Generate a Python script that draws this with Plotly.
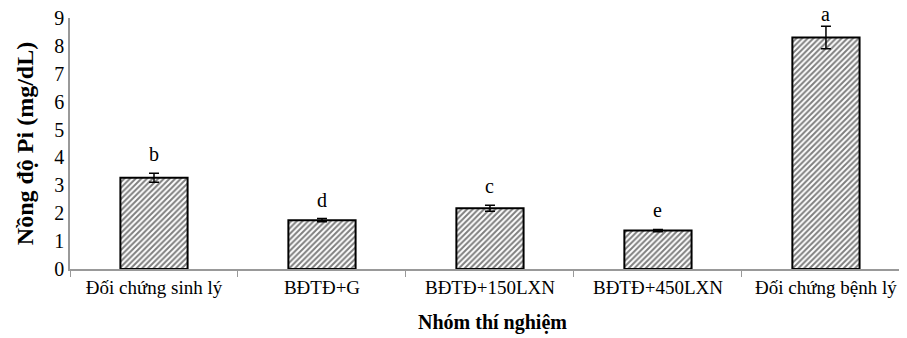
import plotly.graph_objects as go

categories = ["Đối chứng sinh lý", "BĐTĐ+G", "BĐTĐ+150LXN", "BĐTĐ+450LXN", "Đối chứng bệnh lý"]
values = [3.27, 1.75, 2.18, 1.38, 8.30]
errors = [0.16, 0.06, 0.11, 0.04, 0.40]
letters = ["b", "d", "c", "e", "a"]
y_ticks = [0, 1, 2, 3, 4, 5, 6, 7, 8, 9]

serif = "Times New Roman"

fig = go.Figure()
fig.add_trace(go.Bar(
    x=categories, y=values, width=0.4,
    marker=dict(color="white", line=dict(color="black", width=2),
                pattern=dict(shape="/", fgcolor="black", bgcolor="white", size=4, solidity=0.5)),
    error_y=dict(type="data", array=errors, color="black", thickness=1.5, width=5),
    showlegend=False,
))

for c, v, e, t in zip(categories, values, errors, letters):
    top = v + e
    shift = 7 if top < 8 else 0
    fig.add_annotation(x=c, y=top, text=t, showarrow=False, yanchor="bottom",
                       yshift=shift, borderpad=0, height=18, valign="bottom",
                       font=dict(family=serif, size=20, color="black"))

fig.update_layout(
    width=907, height=338,
    margin=dict(l=62, r=0, t=10, b=77),
    plot_bgcolor="white", paper_bgcolor="white",
    font=dict(family=serif, color="black"),
    xaxis=dict(
        range=[-0.5, 4.53], showline=True, linecolor="#999", linewidth=1.5,
        ticks="outside", tickson="boundaries", ticklen=6, tickcolor="#999",
        tickfont=dict(family=serif, size=19, color="black"),
        title=dict(text="<b>Nhóm thí nghiệm</b>", font=dict(family=serif, size=20, color="black"), standoff=18),
        automargin=False,
    ),
    yaxis=dict(
        range=[0, 9], tickvals=y_ticks, showline=True, linecolor="#999", linewidth=1.5,
        showgrid=False, zeroline=False, ticks="", ticklabeloverflow="allow",
        tickfont=dict(family=serif, size=20, color="black"),
        title=dict(text="<b>Nồng độ Pi (mg/dL)</b>", font=dict(family=serif, size=24, color="black"), standoff=14),
        automargin=False,
    ),
)

fig.write_html("out.html")
